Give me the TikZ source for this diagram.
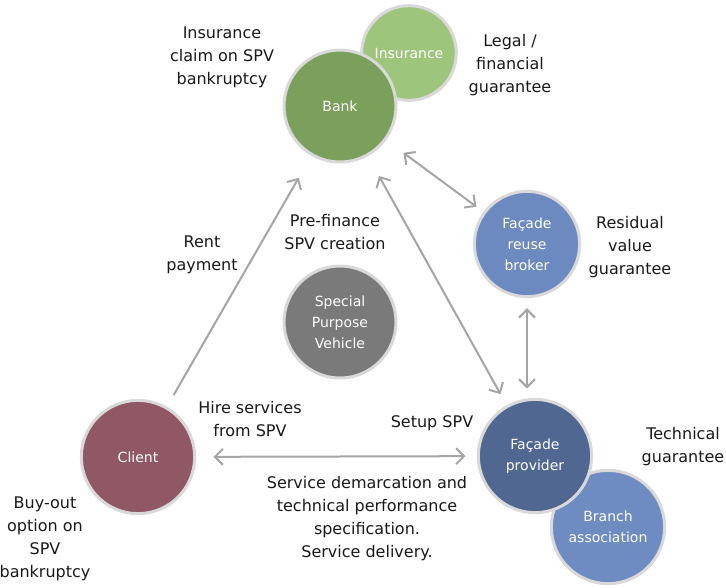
\documentclass[tikz,border=0pt]{standalone}
\usepackage{fontspec}
\setmainfont{DejaVu Sans}
\usetikzlibrary{arrows.meta}

\definecolor{ringgrey}{RGB}{217,217,217}
\definecolor{flowgrey}{RGB}{165,165,165}
\definecolor{labelblack}{RGB}{25,25,25}
\definecolor{bankgreen}{RGB}{123,160,91}
\definecolor{insurgreen}{RGB}{157,198,124}
\definecolor{brokerblue}{RGB}{108,138,192}
\definecolor{providerblue}{RGB}{80,104,145}
\definecolor{branchblue}{RGB}{110,140,194}
\definecolor{clientred}{RGB}{143,88,100}
\definecolor{spvgrey}{RGB}{122,122,122}

\begin{document}
\begin{tikzpicture}[x=0.75pt,y=0.75pt,yscale=-1,xscale=1,
  actor/.style={circle,draw=ringgrey,line width=2.25pt,inner sep=0pt,text=white,align=center,font=\fontsize{10.5}{15.75}\selectfont},
  lbl/.style={inner sep=0.75pt,align=center,text=labelblack,font=\fontsize{12}{17.25}\selectfont},
  flow/.style={draw=flowgrey,line width=1.5pt,{Straight Barb[length=6pt,width=12pt]}-{Straight Barb[length=6pt,width=12pt]}},
  oneway/.style={draw=flowgrey,line width=1.5pt,-{Straight Barb[length=6pt,width=12pt]}}]

\useasboundingbox (0,0) rectangle (726,587);

% actors
\node [actor,fill=insurgreen,minimum size=71pt] (insurance) at (409,53) {Insurance};
\node [actor,fill=bankgreen,minimum size=84pt] (bank) at (340,106) {Bank};
\node [actor,fill=brokerblue,minimum size=79pt] (broker) at (527,244) {Façade\\reuse\\broker};
\node [actor,fill=spvgrey,minimum size=84pt] (spv) at (340,322) {Special\\Purpose\\Vehicle};
\node [actor,fill=branchblue,minimum size=85pt] (branch) at (608,527) {Branch\\association};
\node [actor,fill=providerblue,minimum size=85pt] (provider) at (535,456) {Façade\\provider};
\node [actor,fill=clientred,minimum size=85pt] (client) at (138,457) {Client};

% flows
\draw [oneway,shorten <=10pt,shorten >=19pt] (client) -- (bank);
\draw [flow,shorten <=17pt,shorten >=9.5pt] (bank) -- (provider);
\draw [flow,shorten <=16pt,shorten >=6.5pt] (bank) -- (broker);
\draw [flow,shorten <=7.5pt,shorten >=7pt] (broker.south) -- (broker.south |- provider.north);
\draw [flow,shorten <=13pt,shorten >=8.5pt] (client) -- (provider);

% labels
\node [lbl] (claim) at (222,57) {Insurance\\claim on SPV\\bankruptcy};
\node [lbl] (legal) at (510,65) {Legal /\\financial\\guarantee};
\node [lbl] (rent) at (202,255) {Rent\\payment};
\node [lbl] (prefin) at (335,232) {Pre-finance\\SPV creation};
\node [lbl] (residual) at (630,247) {Residual\\value\\guarantee};
\node [lbl] (setup) at (432,423) {Setup SPV};
\node [lbl] (technical) at (683,447) {Technical\\guarantee};
\node [lbl] (hire) at (250,419) {Hire services\\from SPV};
\node [lbl] (service) at (367,519) {Service demarcation and\\technical performance\\specification.\\Service delivery.};
\node [lbl] (buyout) at (45,539) {Buy-out\\option on\\SPV\\bankruptcy};

\end{tikzpicture}
\end{document}
